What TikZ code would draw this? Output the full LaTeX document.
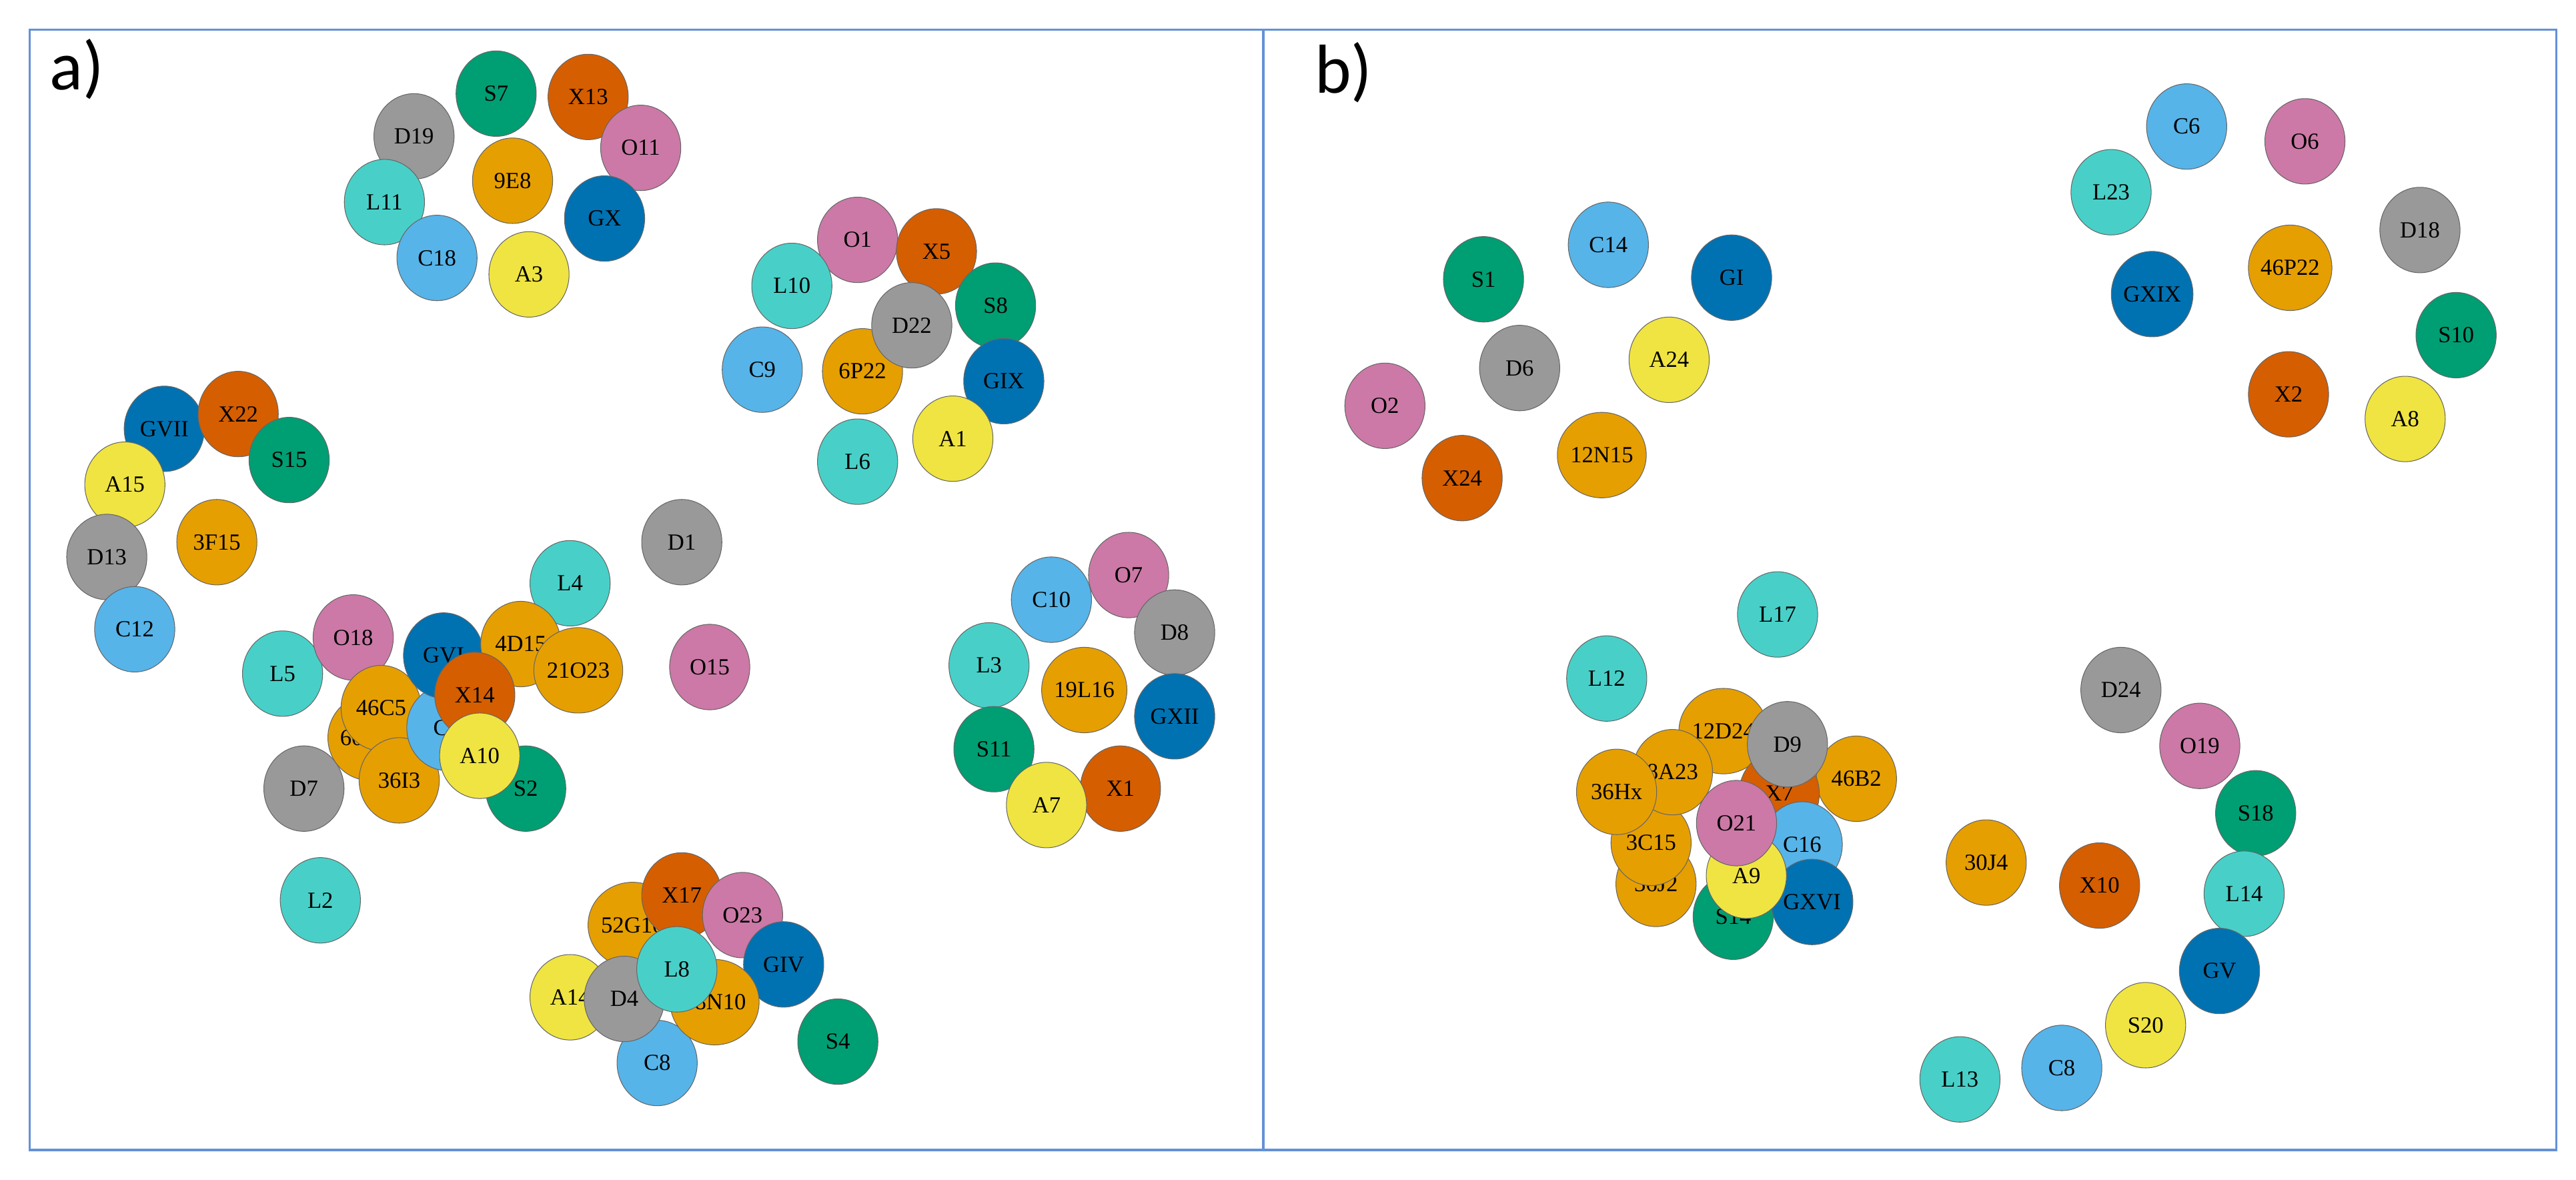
\documentclass[tikz,border=0pt]{standalone}
\usepackage{fontspec}
\setmainfont{Liberation Serif}
\newfontfamily\lblfont{Carlito}
\usetikzlibrary{shapes.geometric,backgrounds}
\definecolor{cN}{RGB}{230,159,0}
\definecolor{cL}{RGB}{72,208,200}
\definecolor{cC}{RGB}{86,180,233}
\definecolor{cS}{RGB}{0,158,115}
\definecolor{cX}{RGB}{213,94,0}
\definecolor{cO}{RGB}{204,121,167}
\definecolor{cG}{RGB}{0,114,178}
\definecolor{cA}{RGB}{240,228,66}
\definecolor{cD}{RGB}{153,153,153}
\definecolor{frm}{RGB}{100,145,215}
\tikzset{
  nd/.style={ellipse,draw=black!60,line width=0.3pt,minimum width=1.22cm,minimum height=1.3cm,inner sep=0pt,font=\fontsize{10}{12}\selectfont},
  N/.style={nd,fill=cN},L/.style={nd,fill=cL},C/.style={nd,fill=cC},S/.style={nd,fill=cS},
  X/.style={nd,fill=cX},O/.style={nd,fill=cO},G/.style={nd,fill=cG},A/.style={nd,fill=cA},D/.style={nd,fill=cD},
  e/.style={draw=black!80,line width=0.5pt},
  lbl/.style={font=\lblfont\fontsize{30}{34}\selectfont,inner sep=0pt}
}
\newcommand{\nd}[5]{\node[#4] (#1) at (#2,#3) {#5};}
\begin{document}
\begin{tikzpicture}[x=0.025cm,y=-0.025cm]
\useasboundingbox (0,0) rectangle (1568,718);
\fill[white] (0,0) rectangle (1568,718);
% ---------- panel a ----------
\nd{S7}{302}{57}{S}{S7}
\nd{Xiii}{358}{59}{X}{X13}
\nd{Dxix}{252}{83}{D}{D19}
\nd{Oxi}{390}{90}{O}{O11}
\nd{GX}{368}{133}{G}{GX}
\nd{Lxi}{234}{123}{L}{L11}
\nd{Cxviii}{266}{157}{C}{C18}
\nd{Aiii}{322}{167}{A}{A3}
\nd{nineE}{312}{110}{N}{9E8}
\nd{Oi}{522}{146}{O}{O1}
\nd{Xv}{570}{153}{X}{X5}
\nd{Lx}{482}{174}{L}{L10}
\nd{Sviii}{606}{186}{S}{S8}
\nd{Cix}{464}{225}{C}{C9}
\nd{GIX}{611}{232}{G}{GIX}
\nd{Ai}{580}{267}{A}{A1}
\nd{Lvi}{522}{281}{L}{L6}
\nd{sixP}{525}{226}{N}{6P22}
\nd{Dxxii}{555}{198}{D}{D22}
\nd{GVII}{100}{261}{G}{GVII}
\nd{Xxxii}{145}{252}{X}{X22}
\nd{Sxv}{176}{280}{S}{S15}
\nd{Axv}{76}{295}{A}{A15}
\nd{Dxiii}{65}{339}{D}{D13}
\nd{Cxii}{82}{383}{C}{C12}
\nd{threeF}{132}{330}{N}{3F15}
\nd{Lv}{172}{410}{L}{L5}
\nd{Dvii}{185}{480}{D}{D7}
\nd{Lii}{195}{548}{L}{L2}
\nd{Div}{}{}{coordinate}{}
\nd{Li}{347}{355}{L}{L4}
\nd{Di}{415}{330}{D}{D1}
\nd{Oxv}{432}{406}{O}{O15}
\nd{Oxviii}{215}{388}{O}{O18}
\nd{Sii}{320}{480}{S}{S2}
\nd{sixtyP}{225}{449}{N}{60P19}
\nd{fortysixC}{232}{431}{N}{46C5}
\nd{thirtysixI}{243}{475}{N}{36I3}
\nd{Ci}{272}{443}{C}{C1}
\nd{GVI}{270}{399}{G}{GVI}
\nd{fourD}{317}{392}{N}{4D15}
\nd{twentyoneO}{352}{408}{N}{21O23}
\nd{Xxiv}{289}{423}{X}{X14}
\nd{Ax}{292}{460}{A}{A10}
\nd{fiftytwoG}{385}{563}{N}{52G10}
\nd{Xxvii}{415}{545}{X}{X17}
\nd{Oxxiii}{452}{557}{O}{O23}
\nd{GIV}{477}{587}{G}{GIV}
\nd{Sq}{510}{634}{S}{S4}
\nd{Axiv}{347}{607}{A}{A14}
\nd{Cviii}{400}{647}{C}{C8}
\nd{thirtyeightN}{435}{610}{N}{38N10}
\nd{Dq}{380}{608}{D}{D4}
\nd{Lviii}{412}{590}{L}{L8}
\nd{Cx}{640}{365}{C}{C10}
\nd{Ovii}{687}{350}{O}{O7}
\nd{Dviii}{715}{385}{D}{D8}
\nd{Liii}{602}{405}{L}{L3}
\nd{GXII}{715}{436}{G}{GXII}
\nd{Sxi}{605}{456}{S}{S11}
\nd{Xi}{682}{480}{X}{X1}
\nd{Avii}{637}{490}{A}{A7}
\nd{nineteenL}{660}{420}{N}{19L16}
% ---------- panel b ----------
\nd{Cvi}{1331}{77}{C}{C6}
\nd{Ovi}{1403}{86}{O}{O6}
\nd{Lxxiii}{1285}{117}{L}{L23}
\nd{Dxviii}{1473}{140}{D}{D18}
\nd{GXIX}{1310}{179}{G}{GXIX}
\nd{Sx}{1495}{204}{S}{S10}
\nd{Xii}{1393}{240}{X}{X2}
\nd{Aviii}{1464}{255}{A}{A8}
\nd{fortysixP}{1394}{163}{N}{46P22}
\nd{Si}{903}{170}{S}{S1}
\nd{Cxiv}{979}{149}{C}{C14}
\nd{GI}{1054}{169}{G}{GI}
\nd{Dvi}{925}{224}{D}{D6}
\nd{Axxiv}{1016}{219}{A}{A24}
\nd{Oii}{843}{247}{O}{O2}
\nd{Xxxiv}{890}{291}{X}{X24}
\nd{twelveN}{975}{277}{N}{12N15}
\nd{Lxvii}{1082}{374}{L}{L17}
\nd{Lxii}{978}{413}{L}{L12}
\nd{Dxxiv}{1291}{420}{D}{D24}
\nd{Oxix}{1339}{454}{O}{O19}
\nd{Sxviii}{1373}{495}{S}{S18}
\nd{Lxiv}{1366}{544}{L}{L14}
\nd{GV}{1351}{591}{G}{GV}
\nd{Sxx}{1306}{624}{A}{S20}
\nd{Cviiib}{1255}{650}{C}{C8}
\nd{Lxiii}{1193}{657}{L}{L13}
\nd{Xx}{1278}{539}{X}{X10}
\nd{thirtyJ}{1209}{525}{N}{30J4}
\nd{twelveD}{1049}{445}{N}{12D24}
\nd{fortysixB}{1130}{474}{N}{46B2}
\nd{Xvii}{1083}{483}{X}{X7}
\nd{Cxvi}{1097}{514}{C}{C16}
\nd{Sxiv}{1055}{558}{S}{S14}
\nd{GXVI}{1103}{549}{G}{GXVI}
\nd{Aix}{1063}{533}{A}{A9}
\nd{thirtysixJ}{1008}{538}{N}{36J2}
\nd{threeC}{1005}{513}{N}{3C15}
\nd{eightA}{1018}{470}{N}{8A23}
\nd{thirtysixH}{984}{482}{N}{36Hx}
\nd{Oxxi}{1057}{501}{O}{O21}
\nd{Dix}{1088}{453}{D}{D9}
% ---------- edges ----------
\begin{scope}[on background layer]
\foreach \t in {S7,Xiii,Dxix,Oxi,GX,Lxi,Cxviii,Aiii} \draw[e] (nineE) -- (\t);
\foreach \t in {Oi,Xv,Lx,Sviii,Cix,GIX,Ai,Lvi,Dxxii} \draw[e] (sixP) -- (\t);
\draw[e] (sixP) -- (Di);
\foreach \t in {GVII,Xxxii,Sxv,Axv,Dxiii,Cxii,Lv,Oxviii} \draw[e] (threeF) -- (\t);
\draw[e] (Lv) to[bend left=15] (fortysixC); \draw[e] (Lv) to[bend right=15] (fortysixC);
\draw[e] (Lv) -- (sixtyP);
\draw[e] (Oxviii) -- (GVI);
\draw[e] (Di) -- (Li); \draw[e] (Di) -- (twentyoneO);
\draw[e] (Li) -- (fourD);
\draw[e] (twentyoneO) -- (Oxv);
\draw[e] (twentyoneO) -- (Sii);
\draw[e] (fourD) to[bend left=20] (Sii);
\draw[e] (Xxiv) -- (Sii);
\draw[e] (thirtysixI) -- (Dvii);
\draw[e] (thirtysixI) -- (Lii);
\draw[e] (Sii) to[bend left=15] (fiftytwoG); \draw[e] (Sii) to[bend right=15] (fiftytwoG);
\draw[e] (thirtyeightN) -- (Sq);
\draw[e] (thirtyeightN) -- (Oxxiii);
\draw[e] (thirtyeightN) -- (GIV);
\foreach \t in {Cx,Ovii,Dviii,Liii,GXII,Sxi,Xi,Avii} \draw[e] (nineteenL) -- (\t);
\foreach \t in {Cvi,Ovi,Lxxiii,Dxviii,GXIX,Sx,Xii,Aviii} \draw[e] (fortysixP) -- (\t);
\draw[e] (Si) -- (Dvi); \draw[e] (GI) -- (Axxiv);
\draw[e] (twelveN) -- (Cxiv); \draw[e] (twelveN) -- (Oii);
\foreach \t in {Dvi,Axxiv,Xxxiv} {\draw[e] (twelveN) to[bend left=14] (\t); \draw[e] (twelveN) to[bend right=14] (\t);}
\draw[e] (twelveN) to[bend left=22] (Lxii); \draw[e] (twelveN) to[bend right=22] (Lxii);
\draw[e] (twelveN) to[bend left=20] (Lxvii); \draw[e] (twelveN) to[bend right=8] (Lxvii);
\draw[e] (Lxvii) to[bend left=15] (twelveD); \draw[e] (Lxvii) to[bend right=15] (twelveD);
\draw[e] (Lxvii) -- (thirtyJ); \draw[e] (Lxvii) -- (fortysixB);
\draw[e] (Lxii) to[bend left=15] (twelveD); \draw[e] (Lxii) to[bend right=15] (twelveD);
\draw[e] (Lxii) to[bend left=10] (thirtysixH); \draw[e] (Lxii) to[bend right=10] (thirtysixH);
\draw[e] (Lxii) -- (eightA);
\foreach \t in {fortysixB,Xvii,Cxvi,GXVI,Aix,Oxxi,threeC,thirtysixJ,Dix} {\draw[e] (thirtyJ) to[bend left=2] (\t); \draw[e] (thirtyJ) to[bend right=2] (\t);}
\foreach \t in {Dxxiv,Oxix,Sxviii,Sxx,Cviiib,Lxiii} \draw[e] (thirtyJ) -- (\t);
\draw[e] (thirtyJ) to[bend left=10] (Xx); \draw[e] (thirtyJ) to[bend right=10] (Xx);
\draw[e] (Xx) -- (Lxiv); \draw[e] (Xx) -- (GV);
\end{scope}
% ---------- frame ----------
\draw[frm,line width=1pt] (18,18) rectangle (1556,700);
\draw[frm,line width=1pt] (769,18) -- (769,700);
\node[lbl,anchor=west] at (30,42) {a)};
\node[lbl,anchor=west] at (800,44) {b)};
\end{tikzpicture}
\end{document}
